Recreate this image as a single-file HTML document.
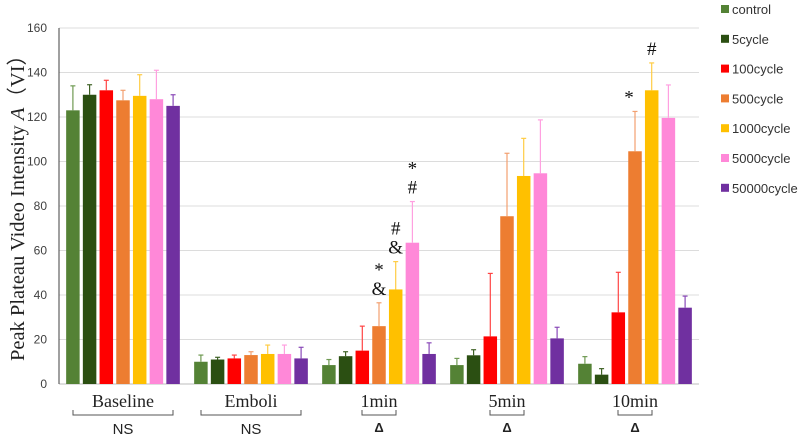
<!DOCTYPE html>
<html><head><meta charset="utf-8"><style>
html,body{margin:0;padding:0;background:#fff;}
svg{display:block;}
</style></head><body>
<svg id="chart" width="800" height="442" xmlns="http://www.w3.org/2000/svg"></svg>
<script>
const categories=["Baseline","Emboli","1min","5min","10min"];
const seriesNames=["control","5cycle","100cycle","500cycle","1000cycle","5000cycle","50000cycle"];
const colors=["#548235","#2b4f12","#ff0000","#ed7d31","#ffc000","#ff88d8","#7030a0"];
const errColors=["#6f9a52","#3f6226","#ff4444","#f2a070","#ffcc44","#ffa0e0","#8a4ab8"];
const valControl=[123,10,8.5,8.5,9.1];
const val5=[130,11,12.5,12.9,4.2];
const val100=[132,11.5,15,21.4,32.2];
const val500=[127.5,13,26,75.4,104.6];
const val1000=[129.5,13.5,42.5,93.5,132];
const val5000=[128,13.5,63.5,94.7,119.6];
const val50000=[125,11.5,13.5,20.5,34.3];
const errControl=[11,3,2.5,3,3.2];
const err5=[4.5,1,2,2.5,2.7];
const err100=[4.5,1.5,11,28.3,18];
const err500=[4.5,1.5,10.5,28.3,17.9];
const err1000=[9.5,4,12.5,16.9,12.3];
const err5000=[13,4,18.5,24,14.8];
const err50000=[5,5,5,5,5.2];
const yTicks=[0,20,40,60,80,100,120,140,160];
const groupNotes=["NS","NS","Δ","Δ","Δ"];
const annotations=[[2,3,["*","&"]],[2,4,["#","&"]],[2,5,["*","#"]],[4,3,["*"]],[4,4,["#"]]];
const values=[valControl,val5,val100,val500,val1000,val5000,val50000];
const errs=[errControl,err5,err100,err500,err1000,err5000,err50000];

const NS="http://www.w3.org/2000/svg";
const svg=document.getElementById("chart");
const X0=59,X1=699,Y0=384,Y1=28,YMAX=160;
const band=(X1-X0)/categories.length, step=16.7, bw=13.5;
function y(v){return Y0-(v/YMAX)*(Y0-Y1);}
function gx(i){return X0+band*i+band/2;}
function bx(i,s){return gx(i)-step*3.5+step*s+(step-bw)/2;}
function mk(tag,attrs,text){const e=document.createElementNS(NS,tag);for(const k in attrs)e.setAttribute(k,attrs[k]);if(text!==undefined)e.textContent=text;svg.appendChild(e);return e;}

yTicks.forEach(t=>{
  const g=mk("line",{x1:X0,x2:X1,y1:y(t),y2:y(t),stroke:t===0?"#bdbdbd":"#dcdcdc","stroke-width":1});
  
  
  const l=mk("text",{x:X0-12,y:y(t)+4,"text-anchor":"end","font-family":"Liberation Sans, sans-serif","font-size":12,fill:"#404040"},t);
  
  
});
const ax=mk("line",{x1:X0,x2:X0,y1:Y1,y2:Y0,stroke:"#404040","stroke-width":1});



const yt=mk("text",{x:0,y:0,transform:"translate(24,203) rotate(-90)","text-anchor":"middle","font-family":"Liberation Serif, serif","font-size":20.5,fill:"#222"});
yt.innerHTML='Peak Plateau Video Intensity <tspan font-style="italic">A</tspan>（VI）';



categories.forEach((c,i)=>{
  seriesNames.forEach((s,k)=>{
    const v=values[k][i],e=errs[k][i],x=bx(i,k);
    const r=mk("rect",{x:x,y:y(v),width:bw,height:Y0-y(v),fill:colors[k]});
    
    
    const cx=x+bw/2;
    const el=mk("line",{x1:cx,x2:cx,y1:y(v),y2:y(v+e),stroke:errColors[k],"stroke-width":1.2});
    
    
    const ec=mk("line",{x1:cx-2.5,x2:cx+2.5,y1:y(v+e),y2:y(v+e),stroke:errColors[k],"stroke-width":1.2});
    
    
  });
  const lab=mk("text",{x:gx(i),y:407,"text-anchor":"middle","font-family":"Liberation Serif, serif","font-size":18,fill:"#222"},c);
  
  
  const wide=i<2, hw=wide?50:17;
  const br=mk("path",{d:`M${gx(i)-hw},410 V415 H${gx(i)+hw} V410`,fill:"none",stroke:"#555","stroke-width":1});
  
  
  const n=mk("text",{x:gx(i),y:wide?434:432,"text-anchor":"middle","font-family":"Liberation Sans, sans-serif","font-size":wide?15:13,"font-weight":wide?"normal":"bold",fill:"#222"},groupNotes[i]);
  
  
});

annotations.forEach(a=>{
  const [gi,si,marks]=a;
  const top=values[si][gi]+errs[si][gi];
  const cx=bx(gi,si)+bw/2-(gi===4&&si===3?6:0);
  marks.slice().reverse().forEach((m,j)=>{
    const t=mk("text",{x:cx,y:y(top)-8-j*19,"text-anchor":"middle","font-family":"Liberation Serif, serif","font-size":19,fill:"#111"},m);
    
    
  });
});

seriesNames.forEach((s,k)=>{
  const yy=9+k*29.8;
  const sq=mk("rect",{x:721,y:yy-4,width:8,height:8,fill:colors[k]});
  
  
  const t=mk("text",{x:732,y:yy+5,"font-family":"Liberation Sans, sans-serif","font-size":13,fill:"#333"},s);
  
  
});
</script>
</body></html>
